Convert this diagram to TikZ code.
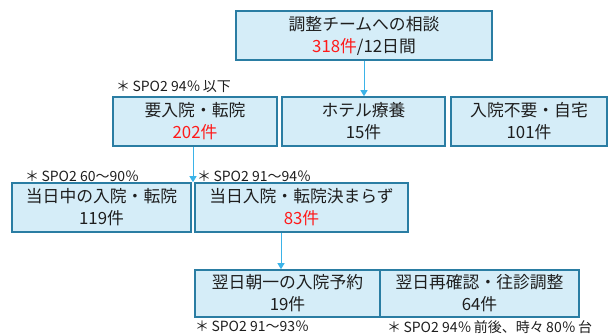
\documentclass[tikz,border=0pt]{standalone}
\usepackage{fontspec}
\setmainfont{Noto Sans CJK JP}
\usetikzlibrary{arrows.meta,calc}
\definecolor{boxfill}{HTML}{D5EDF8}
\definecolor{boxline}{HTML}{2A7DA3}
\definecolor{arrowc}{HTML}{3BB3E8}
\definecolor{txt}{HTML}{1E1E1E}
\definecolor{num}{HTML}{FF1A1A}
\begin{document}
\begin{tikzpicture}[x=1pt,y=-1pt,
 box/.style={draw=boxline, fill=boxfill, line width=1.6pt, inner sep=0pt, align=center, text=txt, font=\fontsize{16.8}{22}\selectfont},
 note/.style={anchor=west, inner sep=0pt, text=txt, font=\fontsize{14}{15}\selectfont},
 arr/.style={draw=arrowc, line width=1pt, -{Triangle[width=7pt,length=6pt]}}]
\useasboundingbox (0,0) rectangle (608,335);
\node[box, minimum width=256pt, minimum height=49pt] (top) at (364,35.5) {調整チームへの相談\\\textcolor{num}{318件}/12日間};
\node[box, minimum width=164pt, minimum height=49pt] (A) at (195,121.5) {要入院・転院\\\textcolor{num}{202件}};
\node[box, minimum width=163pt, minimum height=49pt] (B) at (363.5,121.5) {ホテル療養\\15件};
\node[box, minimum width=156pt, minimum height=49pt] (C) at (529,121.5) {入院不要・自宅\\101件};
\node[box, minimum width=179pt, minimum height=49pt] (D) at (101.5,207.5) {当日中の入院・転院\\119件};
\node[box, minimum width=213pt, minimum height=49pt] (E) at (301.5,207.5) {当日入院・転院決まらず\\\textcolor{num}{83件}};
\node[box, minimum width=185pt, minimum height=47pt] (F) at (287.5,293.5) {翌日朝一の入院予約\\19件};
\node[box, minimum width=199pt, minimum height=47pt] (G) at (479.5,293.5) {翌日再確認・往診調整\\64件};
\node[note] (n1) at (116,87) {＊\,SPO2 94％\,以下};
\node[note] (n2) at (25,176) {＊\,SPO2 60～90％};
\node[note] (n3) at (197,176) {＊\,SPO2 91～94％};
\node[note] (n4) at (195,326) {＊\,SPO2 91～93％};
\node[note] (n5) at (387,327) {＊\,SPO2 94％\,前後、時々\,80％\,台};
\draw[arr] (top.south) -- (top.south |- B.north);
\draw[arr] ([xshift=-2pt]A.south) -- ([xshift=-2pt]A.south |- E.north);
\draw[arr] ([xshift=-6.5pt]F.north |- E.south) -- ([xshift=-6.5pt]F.north);
\end{tikzpicture}
\end{document}
